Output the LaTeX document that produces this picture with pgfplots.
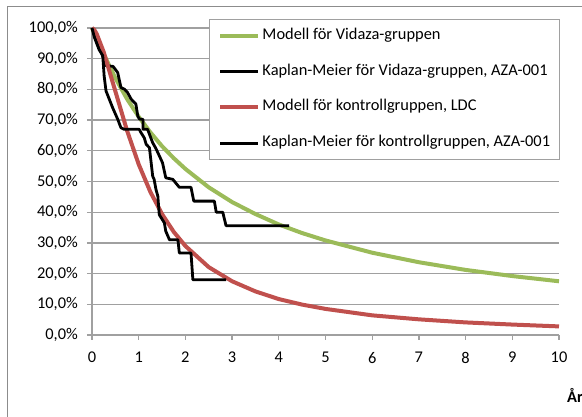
\documentclass[border=0pt]{standalone}
\usepackage{pgfplots}
\pgfplotsset{compat=1.18}
\usepackage{fontspec}
\setmainfont{Carlito}
\definecolor{vgreen}{RGB}{155,187,89}
\definecolor{cred}{RGB}{192,80,77}
\definecolor{gridgray}{RGB}{160,160,160}
\definecolor{framegray}{RGB}{140,140,140}

\pgfplotstableread{
t s
0 100
0.05 98.3
0.1 96.6
0.25 91.5
0.5 83.7
0.75 76.9
1 71.1
1.25 66.0
1.5 61.5
1.75 57.6
2 54.1
2.5 48.1
3 43.3
3.5 39.4
4 36.0
4.5 33.2
5 30.8
6 26.8
7 23.7
8 21.2
9 19.2
10 17.5
}\vidmodel

\pgfplotstableread{
t s
0 100
0.05 99.4
0.1 98.1
0.25 92.2
0.5 79.4
0.75 66.6
1 55.6
1.25 46.6
1.5 39.4
1.75 33.6
2 29.0
2.5 22.1
3 17.5
3.5 14.2
4 11.7
4.5 9.9
5 8.5
6 6.4
7 5.1
8 4.1
9 3.4
10 2.8
}\ctrlmodel

\pgfplotstableread{
t s
0 100
0.05 98
0.15 94
0.25 90
0.30 87.7
0.45 87.5
0.50 86.5
0.55 85.5
0.62 80.6
0.70 80
0.76 79
0.84 76.8
0.94 75.2
0.98 71.3
1.02 70.3
1.09 70.3
1.09 67
1.19 67
1.23 65.4
1.30 62.6
1.36 61
1.41 59.4
1.51 56.1
1.58 51.2
1.73 50.7
1.87 48.1
2.12 48.1
2.18 43.6
2.62 43.6
2.66 40.0
2.80 40.0
2.87 35.6
4.22 35.6
}\vidkm

\pgfplotstableread{
t s
0 100
0.05 97
0.15 93
0.23 91
0.26 84.4
0.30 79.5
0.37 76.8
0.44 74.1
0.55 70.3
0.62 67.5
0.69 67
1.01 67
1.05 65.9
1.12 64.2
1.16 62.1
1.23 61
1.26 57
1.30 51.7
1.33 50.7
1.37 47.4
1.41 45.2
1.44 39.2
1.55 36.5
1.58 33.8
1.66 31
1.84 31
1.87 26.7
2.12 26.7
2.16 18
2.87 18
}\ctrlkm

\begin{document}
\fontsize{16.4}{19}\selectfont
\begin{tikzpicture}[x=1pt,y=1pt,font=\fontsize{16.4}{19}\selectfont]
\useasboundingbox (0,0) rectangle (582,417);
\draw[framegray, line width=1pt] (7,-10) -- (7,410.5) -- (600,410.5);
\begin{axis}[
  at={(92pt,82pt)}, anchor=south west,
  scale only axis, width=467pt, height=307pt,
  xmin=0, xmax=10, ymin=0, ymax=100,
  xtick={0,1,...,10}, ytick={0,10,...,100},
  axis x line*=bottom, axis y line*=left,
  tick align=outside, major tick length=5pt,
  ymajorgrids, grid style={gridgray, line width=1.3pt},
  axis line style={gridgray, line width=1.3pt},
  tick style={gridgray, line width=1.3pt},
  /pgf/number format/assume math mode=true,
  yticklabel={\pgfmathprintnumber[fixed,fixed zerofill,precision=1,use comma]{\tick}\%},
  xticklabel style={inner sep=0pt, anchor=north, yshift=-12pt},
  yticklabel style={inner sep=0pt, anchor=east, xshift=-9pt},
  no markers, clip=false,
  xlabel={\bfseries År},
  xlabel style={at={(1.017,-0.197)}, anchor=west, inner sep=0pt},
  legend cell align=left,
  legend style={at={(0.2505,1.0293)}, anchor=north west,
    draw=gridgray, line width=1pt, fill=white,
    inner xsep=9pt, inner ysep=9pt, row sep=20.7pt, column sep=2pt,
    nodes={inner sep=0pt, text height=11pt, text depth=4pt}},
  legend image code/.code={\draw[#1] (0pt,0pt) -- (38pt,0pt);},
]
\addplot[vgreen, line width=4pt] table[x=t,y=s] {\vidmodel};
\addlegendentry{Modell för Vidaza-gruppen}
\addplot[black, line width=2.8pt, line join=round] table[x=t,y=s] {\vidkm};
\addlegendentry{Kaplan-Meier för Vidaza-gruppen, AZA-001}
\addplot[cred, line width=4pt] table[x=t,y=s] {\ctrlmodel};
\addlegendentry{Modell för kontrollgruppen, LDC}
\addplot[black, line width=2.8pt, line join=round] table[x=t,y=s] {\ctrlkm};
\addlegendentry{Kaplan-Meier för kontrollgruppen, AZA-001}
\end{axis}
\end{tikzpicture}
\end{document}
